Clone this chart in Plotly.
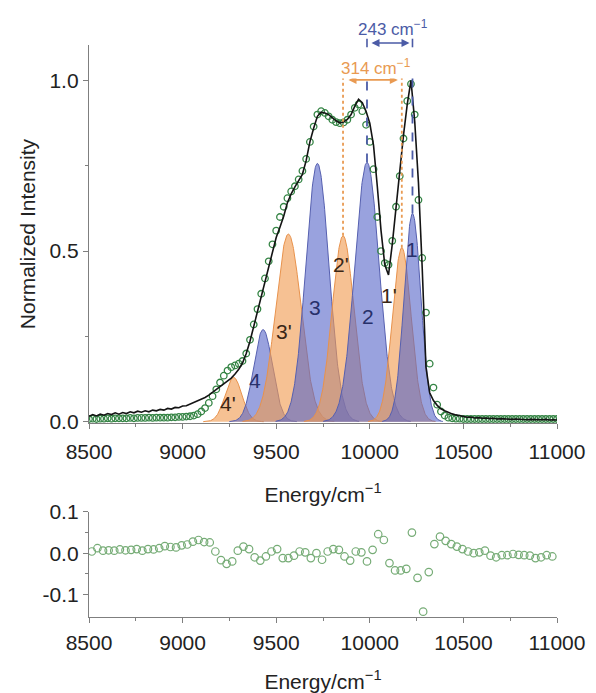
import numpy as np
import plotly.graph_objects as go

# ---------------------------------------------------------------------------
# Spectrum (black line) and fit (green circles) on a 20 cm^-1 energy grid
# ---------------------------------------------------------------------------
energy = np.arange(8500, 11001, 20)

spectrum = [
    0.016, 0.021, 0.017, 0.022, 0.019, 0.024, 0.021, 0.026, 0.022, 0.027,   # 8500-8680
    0.024, 0.029, 0.026, 0.031, 0.028, 0.032, 0.029, 0.034, 0.032, 0.036,   # 8700-8880
    0.034, 0.039, 0.037, 0.042, 0.041, 0.046, 0.047, 0.052, 0.055, 0.060,   # 8900-9080
    0.065, 0.071, 0.078, 0.086, 0.094, 0.102, 0.110, 0.118, 0.128, 0.140,   # 9100-9280
    0.154, 0.172, 0.200, 0.236, 0.280, 0.325, 0.370, 0.410, 0.452, 0.500,   # 9300-9480
    0.540, 0.570, 0.602, 0.642, 0.668, 0.688, 0.705, 0.725, 0.765, 0.820,   # 9500-9680
    0.860, 0.895, 0.907, 0.905, 0.900, 0.890, 0.882, 0.876, 0.878, 0.886,   # 9700-9880
    0.900, 0.925, 0.945, 0.935, 0.910, 0.875, 0.810, 0.690, 0.560, 0.460,   # 9900-10080
    0.430, 0.520, 0.630, 0.740, 0.840, 0.930, 1.000, 0.880, 0.700, 0.450,   # 10100-10280
    0.160, 0.085, 0.062, 0.048, 0.038, 0.032, 0.027, 0.023, 0.020, 0.017,   # 10300-10480
    0.015, 0.013, 0.014, 0.011, 0.012, 0.010, 0.011, 0.009, 0.010, 0.008,   # 10500-10680
    0.009, 0.008, 0.009, 0.007, 0.008, 0.007, 0.008, 0.006, 0.007, 0.006,   # 10700-10880
    0.007, 0.006, 0.007, 0.005, 0.006, 0.005,                               # 10900-11000
]

fit_points = [
    0.008, 0.009, 0.008, 0.009, 0.009, 0.010, 0.009, 0.010, 0.010, 0.010,   # 8500-8680
    0.010, 0.011, 0.010, 0.011, 0.011, 0.011, 0.012, 0.011, 0.012, 0.012,   # 8700-8880
    0.012, 0.012, 0.013, 0.013, 0.014, 0.014, 0.015, 0.016, 0.018, 0.022,   # 8900-9080
    0.030, 0.040, 0.055, 0.075, 0.095, 0.115, 0.135, 0.150, 0.160, 0.165,   # 9100-9280
    0.170, 0.178, 0.200, 0.240, 0.285, 0.330, 0.375, 0.420, 0.470, 0.520,   # 9300-9480
    0.560, 0.600, 0.630, 0.655, 0.675, 0.690, 0.710, 0.735, 0.770, 0.820,   # 9500-9680
    0.865, 0.900, 0.910, 0.905, 0.895, 0.885, 0.878, 0.875, 0.877, 0.885,   # 9700-9880
    0.900, 0.920, 0.930, 0.910, 0.870, 0.820, 0.740, 0.600, 0.500, 0.465,   # 9900-10080
    0.460, 0.530, 0.630, 0.720, 0.830, 0.940, 0.990, 0.900, 0.650, 0.480,   # 10100-10280
    0.320, 0.170, 0.100, 0.050, 0.030, 0.018, 0.012, 0.010, 0.009, 0.009,   # 10300-10480
    0.008, 0.008, 0.008, 0.008, 0.008, 0.008, 0.008, 0.008, 0.008, 0.008,   # 10500-10680
    0.008, 0.008, 0.008, 0.008, 0.008, 0.008, 0.008, 0.008, 0.008, 0.008,   # 10700-10880
    0.008, 0.008, 0.008, 0.008, 0.008, 0.008,                               # 10900-11000
]

# ---------------------------------------------------------------------------
# Fit residual on a 30 cm^-1 grid
# ---------------------------------------------------------------------------
res_energy = np.arange(8515, 10976, 30)
residual = [
    0.004, 0.012, 0.006, 0.007, 0.006, 0.009, 0.007, 0.008, 0.010, 0.006,
    0.010, 0.009, 0.012, 0.017, 0.015, 0.014, 0.019, 0.021, 0.028, 0.032,
    0.027, 0.026, 0.004, -0.017, -0.026, -0.020, 0.006, 0.016, 0.010, -0.010,
    -0.018, -0.008, 0.004, 0.010, -0.012, -0.012, -0.006, 0.004, 0.002, -0.012,
    0.000, -0.016, 0.004, 0.010, 0.008, -0.008, -0.018, 0.004, 0.002, -0.020,
    0.008, 0.046, 0.032, -0.024, -0.042, -0.042, -0.038, 0.050, -0.060, -0.142,
    -0.046, 0.022, 0.040, 0.030, 0.022, 0.016, 0.010, 0.004, 0.000, 0.002,
    0.006, -0.006, -0.010, -0.005, -0.005, -0.002, -0.004, -0.005, -0.006, -0.012,
    -0.010, -0.005, -0.008,
]

# ---------------------------------------------------------------------------
# Gaussian components of the fit (centre / cm^-1, height, sigma / cm^-1)
# ---------------------------------------------------------------------------
comp_names = ["4'", "4", "3'", "3", "2'", "2", "1'", "1"]
comp_centre = [9272, 9430, 9565, 9720, 9857, 9985, 10171, 10228]
comp_height = [0.13, 0.27, 0.55, 0.757, 0.545, 0.76, 0.51, 0.61]
comp_sigma = [45, 50, 68, 62, 58, 65, 50, 45]
comp_series = ["prime", "main", "prime", "main", "prime", "main", "prime", "main"]

# label anchor points for the component names (energy, intensity)
label_x = [9240, 9389, 9544, 9705, 9848, 9988, 10105, 10223]
label_y = [0.053, 0.12, 0.263, 0.336, 0.462, 0.307, 0.37, 0.506]

FONT = "Liberation Sans, Arial, Helvetica, sans-serif"
AXIS_GREY = "#7f7f7f"
TEXT = "#222222"

STYLE = {
    "main": dict(fill="rgba(85,100,200,0.6)", line="rgb(86,96,176)", text="#27306a"),
    "prime": dict(fill="rgba(241,155,80,0.62)", line="rgb(232,146,76)", text="#3a2616"),
}
BLUE_NOTE = "#4b5ba6"
ORANGE_NOTE = "#e99a52"

fig = go.Figure()

# component profiles, drawn low to high energy
for name, c, h, s, ser in zip(comp_names, comp_centre, comp_height, comp_sigma, comp_series):
    xg = np.arange(c - 3.6 * s, c + 3.6 * s + 1, 2.0)
    yg = h * np.exp(-0.5 * ((xg - c) / s) ** 2)
    st = STYLE[ser]
    fig.add_trace(go.Scatter(
        x=xg, y=yg, mode="lines", fill="tozeroy", fillcolor=st["fill"],
        line=dict(color=st["line"], width=1), hoverinfo="skip", showlegend=False,
        xaxis="x", yaxis="y",
    ))

# fit points
fig.add_trace(go.Scatter(
    x=energy, y=fit_points, mode="markers",
    marker=dict(symbol="circle-open", size=6.5, color="rgb(52,132,68)", line=dict(width=1.3)),
    showlegend=False, xaxis="x", yaxis="y",
))

# measured spectrum
fig.add_trace(go.Scatter(
    x=energy, y=spectrum, mode="lines",
    line=dict(color="#141414", width=1.6),
    showlegend=False, xaxis="x", yaxis="y",
))

# residual
fig.add_trace(go.Scatter(
    x=res_energy, y=residual, mode="markers",
    marker=dict(symbol="circle-open", size=7.5, color="rgb(118,172,118)", line=dict(width=1.2)),
    showlegend=False, xaxis="x2", yaxis="y2",
))

# ---------------------------------------------------------------------------
# Splitting markers: 2 -> 1 (blue) and 2' -> 1' (orange)
# ---------------------------------------------------------------------------
i1, i2 = comp_names.index("1"), comp_names.index("2")
j1, j2 = comp_names.index("1'"), comp_names.index("2'")
split_main = comp_centre[i1] - comp_centre[i2]
split_prime = comp_centre[j1] - comp_centre[j2]

shapes = []
for k in (i2, i1):
    shapes.append(dict(type="line", xref="x", yref="y", x0=comp_centre[k], x1=comp_centre[k],
                       y0=comp_height[k], y1=1.012,
                       line=dict(color=BLUE_NOTE, width=1.8, dash="dash")))
    shapes.append(dict(type="line", xref="x", yref="paper", x0=comp_centre[k], x1=comp_centre[k],
                       y0=0.996, y1=1.011, line=dict(color=BLUE_NOTE, width=1.6)))
for k in (j2, j1):
    shapes.append(dict(type="line", xref="x", yref="y", x0=comp_centre[k], x1=comp_centre[k],
                       y0=comp_height[k], y1=1.05,
                       line=dict(color=ORANGE_NOTE, width=1.8, dash="dot")))

annotations = []
# double-headed arrows
annotations.append(dict(
    x=comp_centre[i1], y=1.0035, xref="x", yref="paper",
    ax=comp_centre[i2], ay=0, axref="x", text="", showarrow=True,
    arrowside="end+start", arrowhead=2, arrowsize=1.0, arrowwidth=1.6,
    arrowcolor=BLUE_NOTE, standoff=3, startstandoff=3,
))
annotations.append(dict(
    x=comp_centre[j1], y=0.939, xref="x", yref="paper",
    ax=comp_centre[j2], ay=0, axref="x", text="", showarrow=True,
    arrowside="end+start", arrowhead=2, arrowsize=1.0, arrowwidth=1.6,
    arrowcolor=ORANGE_NOTE, standoff=4, startstandoff=4,
))
annotations.append(dict(
    x=(comp_centre[i1] + comp_centre[i2]) / 2 + 20, y=1.03, xref="x", yref="paper",
    xanchor="center", yanchor="middle",
    text=f"{split_main} cm<sup>−1</sup>", showarrow=False,
    font=dict(family=FONT, size=17, color=BLUE_NOTE),
))
annotations.append(dict(
    x=(comp_centre[j1] + comp_centre[j2]) / 2 + 20, y=0.962, xref="x", yref="paper",
    xanchor="center", yanchor="middle", bgcolor="white", borderpad=0,
    text=f"{split_prime} cm<sup>−1</sup>", showarrow=False,
    font=dict(family=FONT, size=17, color=ORANGE_NOTE),
))

# component names
for name, ser, lx, ly in zip(comp_names, comp_series, label_x, label_y):
    annotations.append(dict(
        x=lx, y=ly, xref="x", yref="y", text=name, showarrow=False,
        xanchor="center", yanchor="middle",
        font=dict(family=FONT, size=21, color=STYLE[ser]["text"]),
    ))

axis_common = dict(
    showline=True, linecolor=AXIS_GREY, linewidth=1.3, mirror=False,
    ticks="outside", ticklen=5, tickwidth=1.3, tickcolor=AXIS_GREY,
    showgrid=False, zeroline=False, automargin=False,
    tickfont=dict(family=FONT, size=21, color=TEXT),
)

fig.update_layout(
    width=596, height=693,
    margin=dict(l=89, r=39, t=45, b=76, autoexpand=False),
    paper_bgcolor="white", plot_bgcolor="white",
    font=dict(family=FONT, color=TEXT),
    shapes=shapes, annotations=annotations,
    xaxis=dict(
        **axis_common, domain=[0, 1], anchor="y", range=[8500, 11000],
        tick0=8500, dtick=500, tickformat="d", ticklabelstandoff=5,
        minor=dict(ticks="outside", ticklen=3, tickcolor=AXIS_GREY, dtick=250, tick0=8500),
        title=dict(text="Energy/cm<sup>−1</sup>", font=dict(family=FONT, size=21, color=TEXT), standoff=24),
    ),
    yaxis=dict(
        **axis_common, domain=[0.339, 1], anchor="x", range=[-0.004, 1.104],
        tick0=0, dtick=0.5, tickformat=".1f",
        minor=dict(ticks="outside", ticklen=3, tickcolor=AXIS_GREY, dtick=0.25, tick0=0),
        title=dict(text="Normalized Intensity", font=dict(family=FONT, size=21, color=TEXT), standoff=8),
    ),
    xaxis2=dict(
        **axis_common, domain=[0, 1], anchor="y2", range=[8500, 11000],
        tick0=8500, dtick=500, tickformat="d", ticklabelstandoff=2,
        minor=dict(ticks="outside", ticklen=3, tickcolor=AXIS_GREY, dtick=250, tick0=8500),
        title=dict(text="Energy/cm<sup>−1</sup>", font=dict(family=FONT, size=21, color=TEXT), standoff=24),
    ),
    yaxis2=dict(
        **axis_common, domain=[0, 0.1836], anchor="x2", range=[-0.155, 0.1],
        tickmode="array", tickvals=[-0.1, 0.0, 0.1], ticktext=["-0.1", "0.0", "0.1"],
        minor=dict(ticks="outside", ticklen=3, tickcolor=AXIS_GREY, tickmode="array", tickvals=[-0.05, 0.05]),
    ),
)

fig.write_html("out.html")
